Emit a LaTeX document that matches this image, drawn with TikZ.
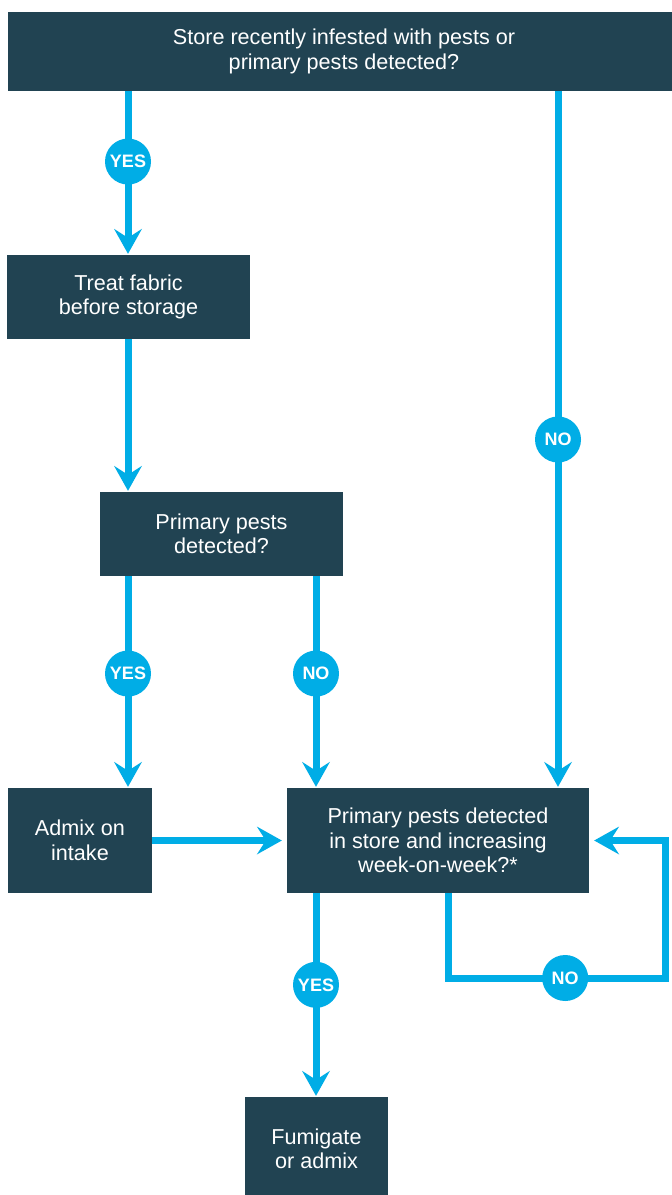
\documentclass[tikz,border=0pt]{standalone}
\usepackage{fontspec}
\setmainfont{Liberation Sans}
\usepackage{xcolor}
\usetikzlibrary{arrows.meta, positioning}
\definecolor{boxteal}{RGB}{33,67,82}
\definecolor{flowblue}{RGB}{0,173,230}

\begin{document}
\begin{tikzpicture}[x=1pt, y=-1pt,
    box/.style={fill=boxteal, text=white, align=center, inner sep=0pt, font=\fontsize{21.6}{24.5}\selectfont},
    flow/.style={draw=flowblue, line width=7pt, -{Stealth[length=25pt, width=28pt, inset=9pt, line width=0pt]}, shorten >=1pt},
    tag/.style={circle, fill=flowblue, text=white, minimum size=46pt, inner sep=0pt, font=\fontsize{18}{20}\selectfont\bfseries}]
    \useasboundingbox[fill=white] (0,0) rectangle (672,1195);

    % Columns of the connectors
    \coordinate (lcol) at (128,0);
    \coordinate (mcol) at (316,0);
    \coordinate (rcol) at (558,0);
    \coordinate (lpcol) at (448,0);
    \coordinate (loopc) at (665,978);

    % Question boxes
    \node[box, minimum width=672pt, minimum height=79pt] (top) at (344,51.5) {Store recently infested with pests or\\primary pests detected?};
    \node[box, minimum width=243pt, minimum height=84pt] (primary) at (221.5,534) {Primary pests\\detected?};
    \node[box, minimum width=302pt, minimum height=105pt] (check) at (438,840.5) {Primary pests detected\\in store and increasing\\week-on-week?*};

    % Action boxes
    \node[box, minimum width=243pt, minimum height=84pt] (treat) at (128.5,297) {Treat fabric\\before storage};
    \node[box, minimum width=144pt, minimum height=105pt] (admix) at (80,840.5) {Admix on\\intake};
    \node[box, minimum width=143pt, minimum height=104pt] (fumigate) at (316.5,1149) {Fumigate\\or admix};

    % Top question
    \draw[flow] (top.south -| lcol) -- node[tag, pos=0.43] (yes1) {YES} (treat.north -| lcol);
    \draw[flow] (top.south -| rcol) -- node[tag, pos=0.5] (no1) {NO} (check.north -| rcol);

    % Treat fabric
    \draw[flow] (treat.south -| lcol) -- (primary.north -| lcol);

    % Primary pests
    \draw[flow] (primary.south -| lcol) -- node[tag, pos=0.46] (yes2) {YES} (admix.north -| lcol);
    \draw[flow] (primary.south -| mcol) -- node[tag, pos=0.46] (no2) {NO} (check.north -| mcol);

    % Admix
    \draw[flow, shorten >=5pt] (admix.east) -- (check.west);

    % Weekly check
    \draw[flow] (check.south -| mcol) -- node[tag, pos=0.45] (yes3) {YES} (fumigate.north -| mcol);
    \draw[flow, shorten >=5pt] (check.south -| lpcol) |- node[tag, pos=0.77] (no3) {NO} (loopc) |- (check.east);
\end{tikzpicture}
\end{document}
